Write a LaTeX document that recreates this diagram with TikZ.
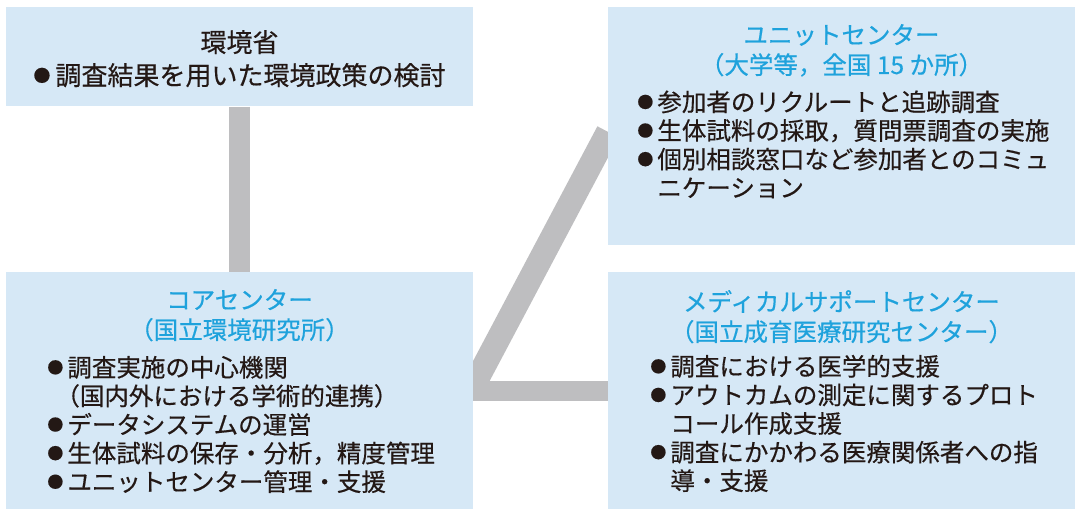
\documentclass[tikz,border=0pt]{standalone}
\usepackage{fontspec}
\newfontfamily\jp[FakeBold=0.45]{Noto Sans CJK JP}
\usetikzlibrary{backgrounds}
\definecolor{boxblue}{RGB}{214,232,246}
\definecolor{titlecyan}{RGB}{30,162,220}
\definecolor{linkgray}{RGB}{190,190,192}
\definecolor{inkblack}{RGB}{35,24,21}
\newcommand{\bulletdot}{\raisebox{1.6pt}{\scalebox{0.65}{●}}}
\newcommand{\bul}{\makebox[10pt][l]{\bulletdot}}
\newcommand{\cont}{\hspace*{10pt}}

\begin{document}
\begin{tikzpicture}[x=0.5pt, y=-0.5pt,
    panel/.style={fill=boxblue, inner sep=0pt, anchor=north west, minimum width=233.5pt},
    head/.style={font=\jp\fontsize{12.25}{15}\selectfont, text=titlecyan, align=center, inner sep=0pt, anchor=base},
    items/.style={font=\jp\fontsize{12.25}{14.3}\selectfont, text=inkblack, align=left, inner sep=0pt, anchor=base west},
    link/.style={draw=linkgray, line width=10.5pt}]

  \useasboundingbox (0,0) rectangle (1086,517);

  % 四つの枠
  \node[panel, minimum height=49.5pt] (env) at (6,7) {};
  \node[panel, minimum height=118.5pt] (core) at (6,272) {};
  \node[panel, minimum height=119pt] (unit) at (608,7) {};
  \node[panel, minimum height=118.5pt] (med) at (608,272) {};

  % 環境省
  \node[head, text=inkblack, font=\jp\fontsize{13}{15}\selectfont] (envtitle) at (239.5,52) {環境省};
  \node[items, anchor=base, font=\jp\fontsize{13}{15}\selectfont] (envlist) at (239.5,85)
    {\makebox[11pt][l]{\bulletdot}調査結果を用いた環境政策の検討};

  % コアセンター（基準は最後の行）
  \node[head] (coretitle) at (239.5,339) {コアセンター\\（国立環境研究所）};
  \node[items] (corelist) at (47,491) {%
    \bul 調査実施の中心機関\\
    \hspace*{4pt}（国内外における学術的連携）\\
    \bul データシステムの運営\\
    \bul 生体試料の保存・分析，精度管理\\
    \bul ユニットセンター管理・支援};

  % ユニットセンター
  \node[head] (unittitle) at (841.5,74) {ユニットセンター\\（大学等，全国 15 か所）};
  \node[items] (unitlist) at (637,197) {%
    \bul 参加者のリクルートと追跡調査\\
    \bul 生体試料の採取，質問票調査の実施\\
    \bul 個別相談窓口など参加者とのコミュ\\
    \cont ニケーション};

  % メディカルサポートセンター
  \node[head] (medtitle) at (841.5,341) {メディカルサポートセンター\\（国立成育医療研究センター）};
  \node[items] (medlist) at (650,490) {%
    \bul 調査における医学的支援\\
    \bul アウトカムの測定に関するプロト\\
    \cont コール作成支援\\
    \bul 調査にかかわる医療関係者への指\\
    \cont 導・支援};

  % 連結線（枠の下に描く）
  \begin{scope}[on background layer]
    \draw[link] (env.south) -- (core.north);
    \coordinate (bend) at ([xshift=-1.5pt]core.east |- med.west);
    \draw[link, line width=12pt] ([yshift=-2.75pt]unit.west) -- (bend);
    \draw[link, line width=10pt] (bend) -- (med.west);
  \end{scope}
\end{tikzpicture}
\end{document}
